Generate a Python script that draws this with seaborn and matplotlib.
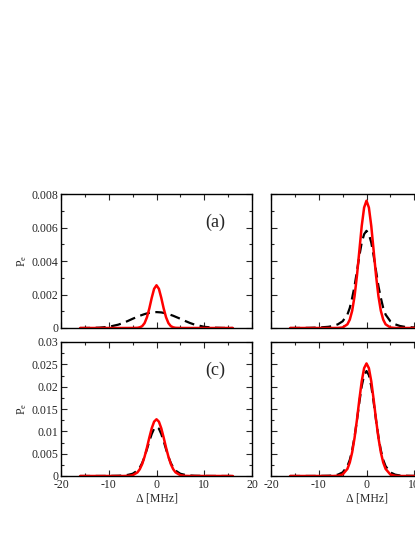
import numpy as np
import pandas as pd
import matplotlib
matplotlib.use("Agg")
import matplotlib.pyplot as plt
from matplotlib.ticker import MultipleLocator
import seaborn as sns

sns.set_style("ticks")
plt.rcParams['font.family'] = ['Liberation Serif', 'DejaVu Serif']
plt.rcParams['mathtext.fontset'] = 'stix'

# detuning grid (MHz), x >= 0 half; curves are symmetric about 0
delta_half = [0, 0.5, 1, 1.5, 2, 2.5, 3, 3.5, 4, 5, 6, 7, 8, 10, 12, 14, 16]

# panel (a)
red_a = [0.00255, 0.00234, 0.00180, 0.00117, 0.00064, 0.00029, 0.00011, 0.00004,
         0.00001, 0.000002, 0, 0, 0, 0, 0, 0, 0]
black_a = [0.00095, 0.00094, 0.00093, 0.00090, 0.00087, 0.00083, 0.00078, 0.00073,
           0.00067, 0.00055, 0.00042, 0.00030, 0.00020, 0.00007, 0.00002, 0.000005, 0]
# panel (b)
red_b = [0.0076, 0.00719, 0.00609, 0.00461, 0.00312, 0.00190, 0.00103, 0.00050,
         0.00022, 0.00003, 0.000002, 0, 0, 0, 0, 0, 0]
black_b = [0.0058, 0.0056, 0.0051, 0.0043, 0.0034, 0.0025, 0.0018, 0.0012,
           0.0008, 0.0004, 0.00022, 0.00012, 0.00007, 0.00003, 0.00001, 0.000003, 0]
# panel (c)
red_c = [0.0127, 0.01217, 0.01068, 0.00861, 0.00635, 0.00431, 0.00268, 0.00152,
         0.00080, 0.00017, 0.00003, 0, 0, 0, 0, 0, 0]
black_c = [0.0110, 0.0106, 0.0094, 0.0078, 0.0060, 0.0043, 0.0029, 0.0019,
           0.0012, 0.0005, 0.00025, 0.00012, 0.00006, 0.00002, 0.00001, 0.000003, 0]
# panel (d)
red_d = [0.0252, 0.02414, 0.02119, 0.01709, 0.01260, 0.00854, 0.00532, 0.00302,
         0.00159, 0.00033, 0.00005, 0, 0, 0, 0, 0, 0]
black_d = [0.0235, 0.0226, 0.0201, 0.0165, 0.0125, 0.0088, 0.0058, 0.0036,
           0.0022, 0.0008, 0.0003, 0.00012, 0.00006, 0.00002, 0.00001, 0.000003, 0]

# (b) and (d) labels sit outside the visible crop in the reference
panel_labels = ['(a)', None, '(c)', None]
row_ylim = [0.008, 0.03]
row_ymajor = [0.002, 0.005]
row_yticklabels = [['0', '0.002', '0.004', '0.006', '0.008'],
                   ['0', '0.005', '0.01', '0.015', '0.02', '0.025', '0.03']]


def mirror(half, sign=1):
    # full symmetric curve from the x >= 0 half
    if sign < 0:
        return [-v for v in half[::-1]] + list(half[1:])
    return list(half[::-1]) + list(half[1:])


delta = mirror(delta_half, -1)
panels = [(red_a, black_a), (red_b, black_b), (red_c, black_c), (red_d, black_d)]

fig = plt.figure(figsize=(4.15, 5.37), dpi=100)
W, H = 415, 537
boxes = [(61, 194), (271, 194), (61, 342), (271, 342)]
aw, ah = 191, 134

for i, (red, black) in enumerate(panels):
    row = i // 2
    left, top = boxes[i]
    ax = fig.add_axes([left / W, 1 - (top + ah) / H, aw / W, ah / H])
    df = pd.DataFrame({'delta': delta, 'red': mirror(red), 'black': mirror(black)})
    sns.lineplot(data=df, x='delta', y='black', ax=ax, color='black',
                 linewidth=1.6, linestyle=(0, (4.5, 2.5)))
    sns.lineplot(data=df, x='delta', y='red', ax=ax, color='#ff0000', linewidth=1.8)

    ax.set_xlim(-20, 20)
    ax.set_ylim(0, row_ylim[row])
    ax.xaxis.set_major_locator(MultipleLocator(10))
    ax.xaxis.set_minor_locator(MultipleLocator(5))
    ax.yaxis.set_major_locator(MultipleLocator(row_ymajor[row]))
    ax.yaxis.set_minor_locator(MultipleLocator(row_ymajor[row] / 2))
    ax.tick_params(which='both', direction='in', top=True, right=True,
                   labelsize=8.5, pad=2, width=0.8)
    ax.tick_params(which='major', length=4)
    ax.tick_params(which='minor', length=2.2)
    for s in ax.spines.values():
        s.set_linewidth(1.0)
        s.set_color('black')

    if i % 2 == 0:
        ax.set_yticks(np.linspace(0, row_ylim[row], len(row_yticklabels[row])))
        ax.set_yticklabels(row_yticklabels[row])
        ax.set_ylabel(r'P$_\mathregular{e}$', fontsize=8.5, labelpad=2)
    else:
        ax.set_yticklabels([])
        ax.set_ylabel('')

    if row == 1:
        ax.set_xticks([-20, -10, 0, 10, 20])
        ax.set_xticklabels(['-20', '-10', '0', '10', '20'])
        ax.set_xlabel('Δ [MHz]', fontsize=8.5, labelpad=1)
    else:
        ax.set_xticklabels([])
        ax.set_xlabel('')

    if panel_labels[i]:
        ax.text(0.806, 0.79, panel_labels[i], transform=ax.transAxes,
                ha='center', va='center', fontsize=13)

fig.savefig('out.png', dpi=100)
